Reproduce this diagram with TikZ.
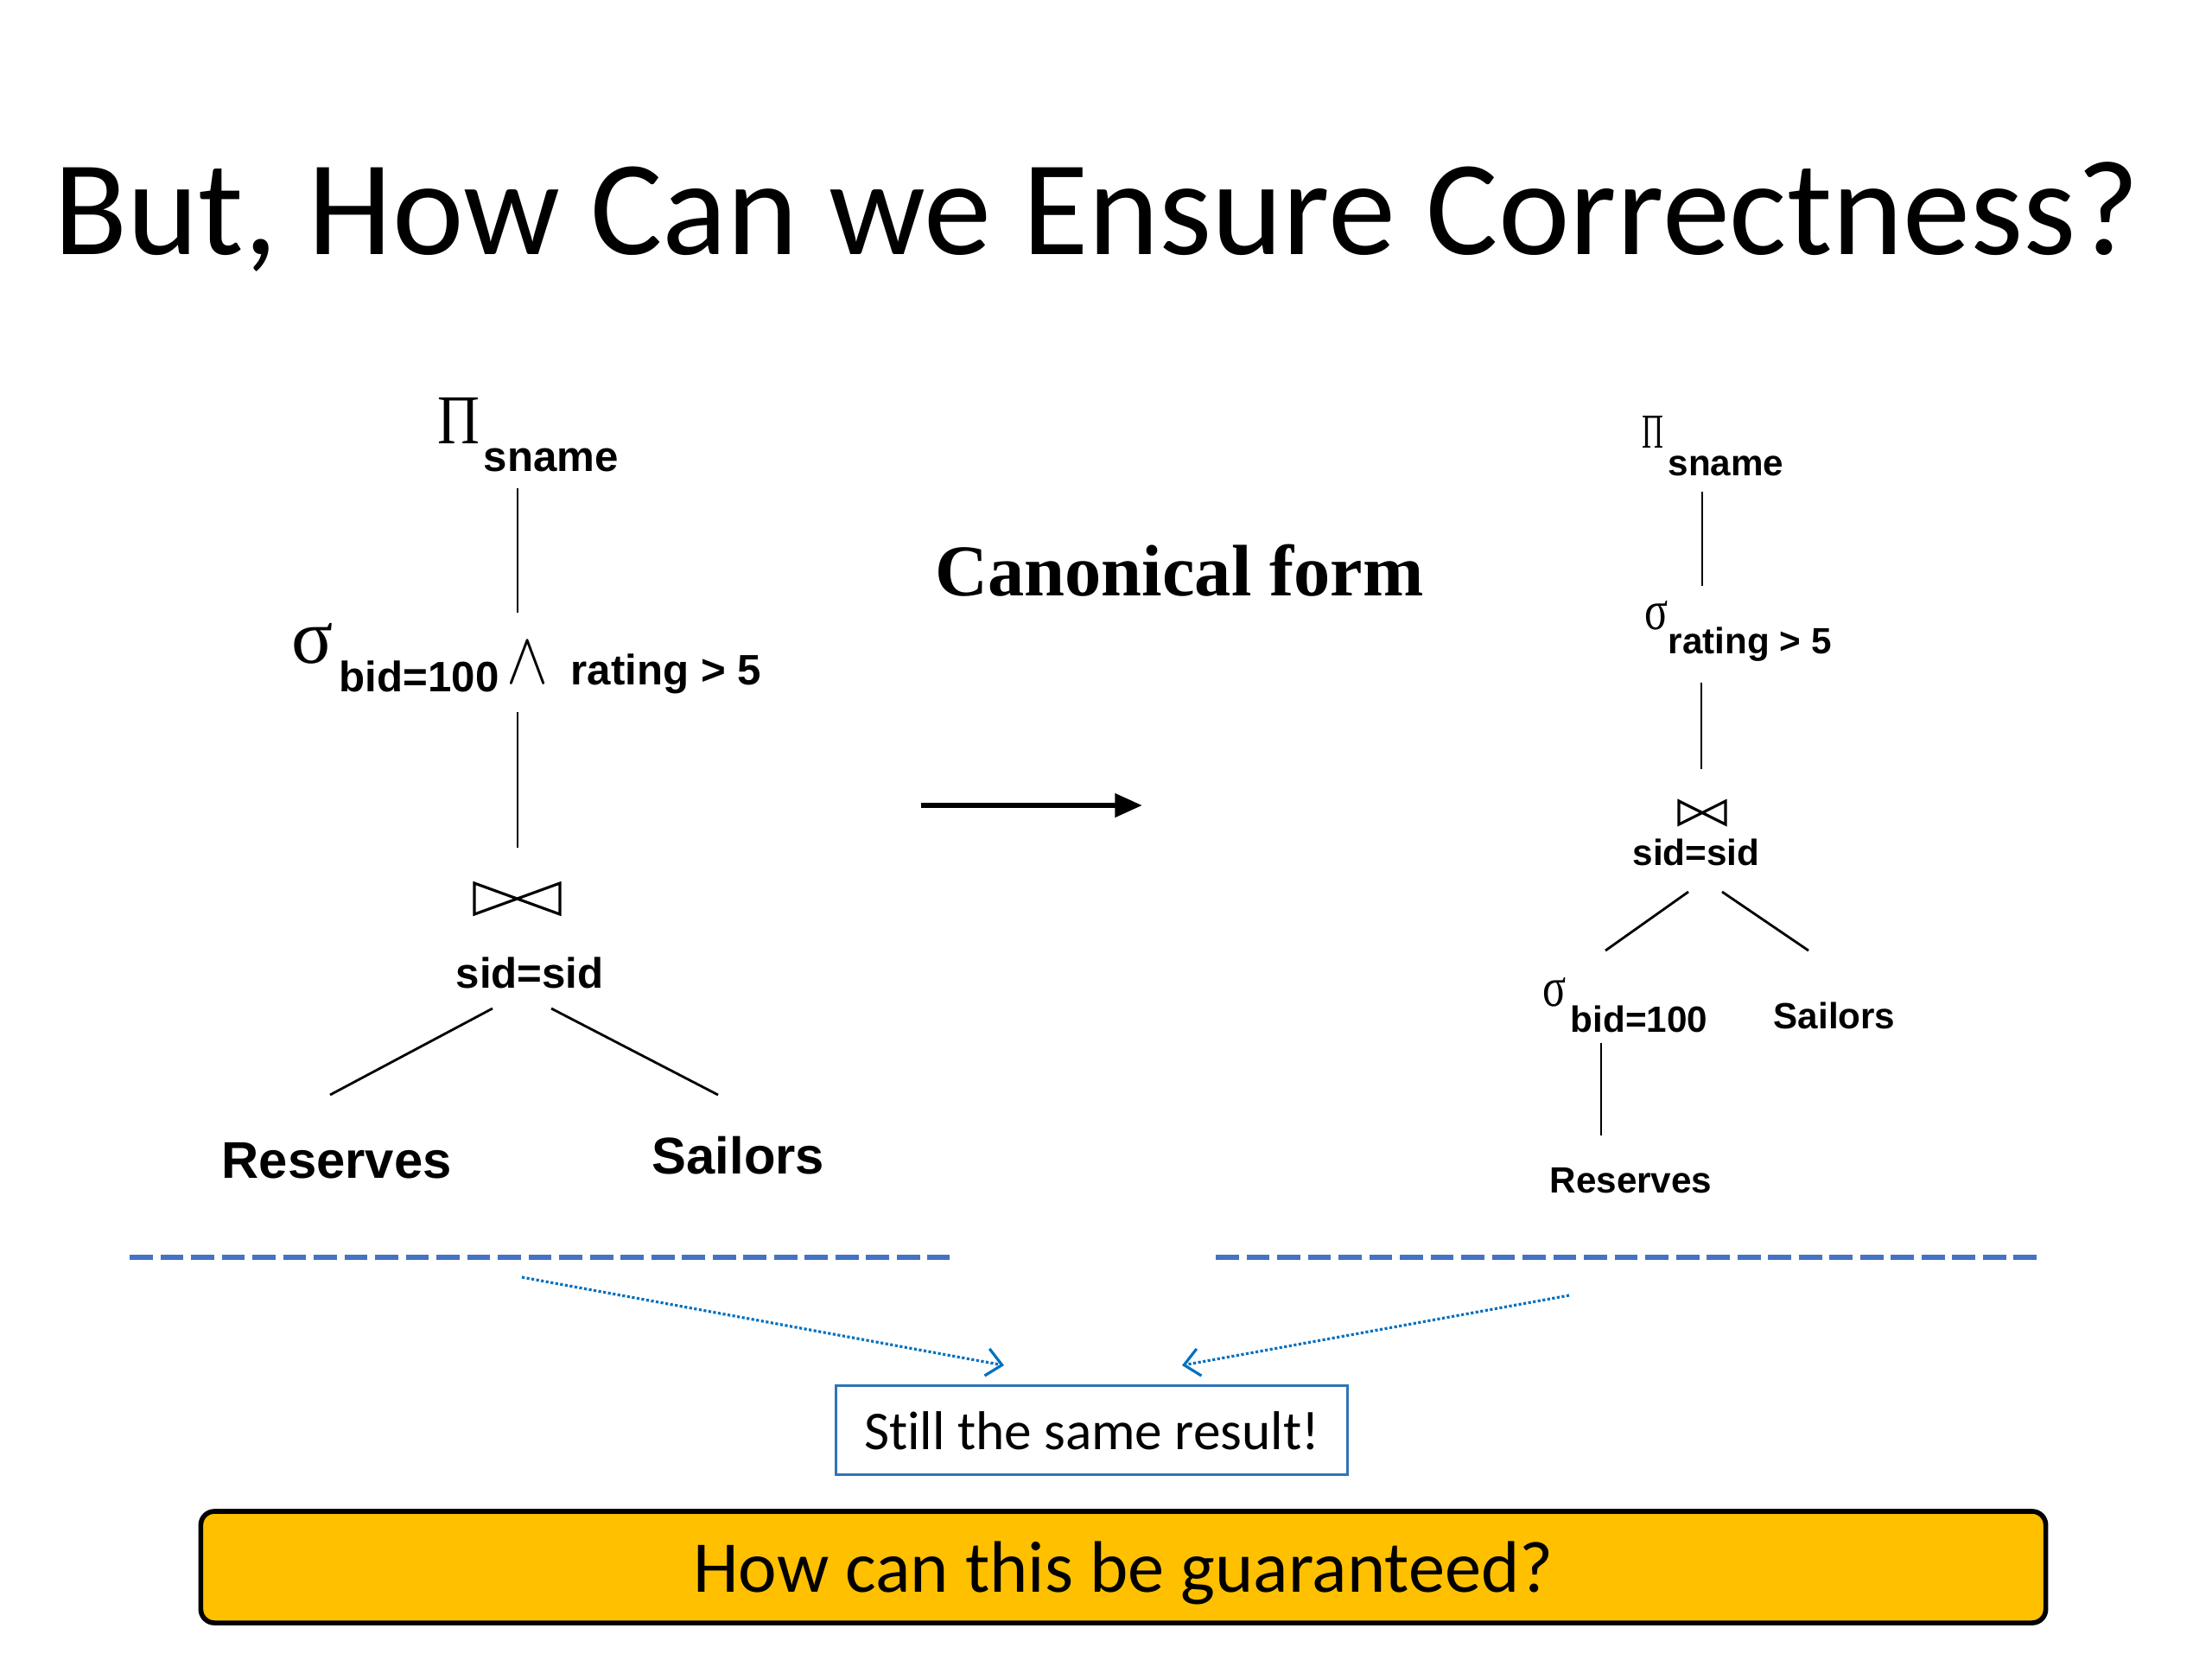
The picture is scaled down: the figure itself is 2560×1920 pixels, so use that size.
\documentclass[tikz,border=0pt]{standalone}
\usepackage{fontspec}
\usepackage{graphicx}
\setmainfont{Carlito}[Ligatures={NoCommon}]
\newfontfamily\arialf{Liberation Sans}
\newfontfamily\timesf{Liberation Serif}
\usetikzlibrary{arrows.meta}
\definecolor{dashblue}{RGB}{68,114,196}
\definecolor{dotblue}{RGB}{0,112,192}
\definecolor{boxblue}{RGB}{46,117,182}
\definecolor{gold}{RGB}{255,192,0}
\begin{document}
\begin{tikzpicture}[x=0.01cm,y=-0.01cm,
  lab/.style={inner sep=0pt, anchor=base west},
  tl/.style={lab, font=\arialf\bfseries\fontsize{14}{16}\selectfont},
  tr/.style={lab, font=\arialf\bfseries\fontsize{12}{14}\selectfont},
  tb/.style={lab, font=\arialf\bfseries\fontsize{17}{19}\selectfont},
  sym/.style={inner sep=0pt, anchor=base west, font=\timesf},
  edge/.style={line width=0.8pt, black},
  tie/.style={inner sep=0pt, outer sep=0pt},
  tiepath/.style={line width=0.9pt, line join=miter},
  sep/.style={dashblue, line width=1.85pt, dash pattern=on 7.6pt off 2.5pt},
  dotarrow/.style={dotblue, line width=0.9pt, dash pattern=on 0.9pt off 0.7pt, -{Straight Barb[length=5pt,width=9pt]}},
]
\fill[white] (0,0) rectangle (2560,1920);
\useasboundingbox (0,0) rectangle (2560,1920);

% title
\node[inner sep=0pt, anchor=base, font=\fontsize{44.5}{50}\selectfont] (title) at (1269,294) {But, How Can we Ensure Correctness?};

% ---------- left tree ----------
\node[sym] (lpi) at (506,513) {\resizebox{13.9pt}{15.1pt}{Π}};
\node[tl] (lsname) at (559,545) {sname};
\coordinate (l1a) at (599,565);
\coordinate (l1b) at (599,709);
\draw[edge] (l1a) -- (l1b);
\node[sym] (lsig) at (337,767) {\resizebox{13.7pt}{13.1pt}{σ}};
\node[tl] (lbid) at (392,800) {bid=100};
\node[inner sep=0pt, anchor=base west] (land) at (586,790) {\resizebox{13.7pt}{13.4pt}{$\wedge$}};
\node[tl] (lrating) at (660,792) {rating > 5};
\coordinate (l2a) at (599,824);
\coordinate (l2b) at (599,981);
\draw[edge] (l2a) -- (l2b);
\node[tie, minimum width=0.99cm, minimum height=0.36cm] (ljoin) at (598.5,1040) {};
\draw[tiepath] (ljoin.north west) -- (ljoin.south west) -- (ljoin.north east) -- (ljoin.south east) -- cycle;
\node[tl] (lsid) at (527,1143) {sid=sid};
\coordinate (l3a) at (570,1167);
\coordinate (l3b) at (382,1267);
\coordinate (l4a) at (638,1167);
\coordinate (l4b) at (831,1267);
\draw[edge] (l3a) -- (l3b);
\draw[edge] (l4a) -- (l4b);
\node[tb] (lres) at (256,1363) {Reserves};
\node[tb] (lsail) at (754,1358) {Sailors};

% ---------- middle ----------
\node[inner sep=0pt, anchor=base west, font=\timesf\bfseries\fontsize{24}{28}\selectfont] (canon) at (1082,689) {Canonical form};
\coordinate (arA) at (1066,932);
\coordinate (arB) at (1322,932);
\draw[line width=1.8pt, -{Triangle[length=9pt,width=7.5pt]}] (arA) -- (arB);

% ---------- right tree ----------
\node[sym] (rpi) at (1900,518) {\resizebox{7.1pt}{10.5pt}{Π}};
\node[tr] (rsname) at (1930,550) {sname};
\coordinate (r1a) at (1970,569);
\coordinate (r1b) at (1970,678);
\draw[edge] (r1a) -- (r1b);
\node[sym] (rsig) at (1903,728) {\resizebox{7.7pt}{9.4pt}{σ}};
\node[tr] (rrating) at (1930,756) {rating > 5};
\coordinate (r2a) at (1969,790);
\coordinate (r2b) at (1969,890);
\draw[edge] (r2a) -- (r2b);
\node[tie, minimum width=0.54cm, minimum height=0.27cm] (rjoin) at (1970,940.5) {};
\draw[tiepath] (rjoin.north west) -- (rjoin.south west) -- (rjoin.north east) -- (rjoin.south east) -- cycle;
\node[tr] (rsid) at (1889,1001) {sid=sid};
\coordinate (r3a) at (1954,1032);
\coordinate (r3b) at (1858,1100);
\coordinate (r4a) at (1993,1032);
\coordinate (r4b) at (2093,1100);
\draw[edge] (r3a) -- (r3b);
\draw[edge] (r4a) -- (r4b);
\node[sym] (rsig2) at (1785,1164) {\resizebox{7.7pt}{9.4pt}{σ}};
\node[tr] (rbid) at (1817,1194) {bid=100};
\node[tr] (rsail) at (2052,1190) {Sailors};
\coordinate (r5a) at (1853,1207);
\coordinate (r5b) at (1853,1314);
\draw[edge] (r5a) -- (r5b);
\node[tr] (rres) at (1793,1380) {Reserves};

% ---------- separators and result ----------
\coordinate (s1a) at (150,1455);
\coordinate (s1b) at (1099,1455);
\coordinate (s2a) at (1407,1455);
\coordinate (s2b) at (2359,1455);
\draw[sep] (s1a) -- (s1b);
\draw[sep] (s2a) -- (s2b);

\node[draw=boxblue, line width=0.9pt, minimum width=5.91cm, minimum height=1.03cm, inner sep=0pt, text height=12.6pt, text depth=0pt, font=\fontsize{18}{22}\selectfont] (still) at (1263.5,1655) {Still the same result!};

\coordinate (d1a) at (604,1478);
\coordinate (d1b) at (1162,1580);
\coordinate (d2a) at (1816,1499);
\coordinate (d2b) at (1368,1580);
\draw[dotarrow] (d1a) -- (d1b);
\draw[dotarrow] (d2a) -- (d2b);

\node[draw=black, fill=gold, line width=1.6pt, rounded corners=4.5pt, minimum width=21.34cm, minimum height=1.29cm, inner sep=0pt, text height=16.2pt, text depth=0pt, font=\fontsize{24}{28}\selectfont] (q) at (1300,1813.5) {How can this be guaranteed?};
\end{tikzpicture}
\end{document}
